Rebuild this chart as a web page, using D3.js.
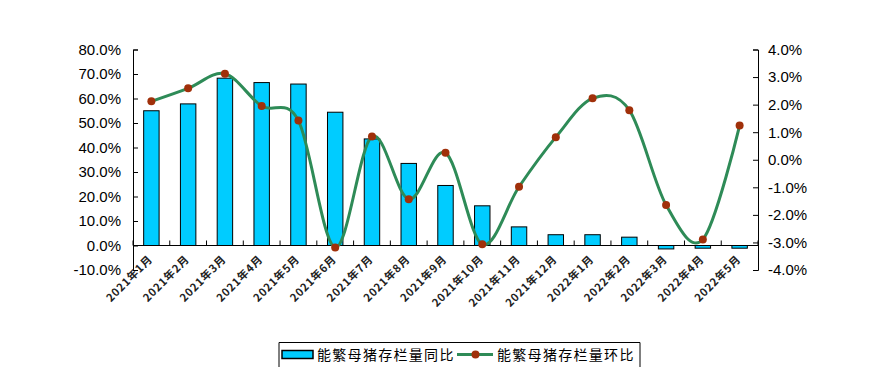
<!DOCTYPE html>
<html><head><meta charset="utf-8">
<script src="https://cdn.jsdelivr.net/npm/d3@7"></script>
<style>body{margin:0;background:#fff;}svg{display:block;}</style>
</head><body>
<svg id="c" width="872" height="392"></svg>
<script>
const categories = ["2021年1月","2021年2月","2021年3月","2021年4月","2021年5月","2021年6月","2021年7月","2021年8月","2021年9月","2021年10月","2021年11月","2021年12月","2022年1月","2022年2月","2022年3月","2022年4月","2022年5月"];
const yoyValues = [55.0, 57.8, 68.3, 66.5, 65.9, 54.4, 43.5, 33.5, 24.5, 16.2, 7.6, 4.4, 4.4, 3.4, -1.4, -1.1, -1.1];
const momValues = [2.12, 2.59, 3.12, 1.95, 1.42, -3.18, 0.84, -1.43, 0.25, -3.07, -0.98, 0.82, 2.23, 1.80, -1.64, -2.89, 1.24];
const leftTicks = [-10, 0, 10, 20, 30, 40, 50, 60, 70, 80];
const rightTicks = [-4, -3, -2, -1, 0, 1, 2, 3, 4];
const seriesNames = ["能繁母猪存栏量同比", "能繁母猪存栏量环比"];

const svg = d3.select("#c");
const X0 = 133, X1 = 758, Y0 = 270, Y1 = 49.5;
const x = d3.scaleBand().domain(categories).range([X0, X1]).paddingInner(0.58).paddingOuter(0.29);
const yL = d3.scaleLinear().domain([-10, 80]).range([Y0, Y1]);
const yR = d3.scaleLinear().domain([-4, 4]).range([Y0, Y1]);
const fmt = d => d.toFixed(1) + "%";
const font = "'Liberation Sans', Arial, sans-serif";

// bars
svg.append("g").selectAll("rect").data(categories).join("rect")
  .attr("x", c => x(c))
  .attr("width", x.bandwidth())
  .attr("y", (c, i) => yL(Math.max(0, yoyValues[i])))
  .attr("height", (c, i) => Math.abs(yL(yoyValues[i]) - yL(0)))
  .attr("fill", "#00CCFF").attr("stroke", "#000").attr("stroke-width", 1);

// left axis
const gl = svg.append("g").attr("transform", `translate(${X0},0)`)
  .call(d3.axisLeft(yL).tickValues(leftTicks).tickFormat(fmt).tickSize(-5).tickPadding(12));
// right axis
const gr = svg.append("g").attr("transform", `translate(${X1},0)`)
  .call(d3.axisRight(yR).tickValues(rightTicks).tickFormat(fmt).tickSize(-5).tickPadding(10));
[gl, gr].forEach(g => {
  g.select(".domain").attr("stroke", "#000");
  g.selectAll(".tick line").attr("stroke", "#000");
  g.selectAll("text").attr("font-family", font).attr("font-size", 15).attr("fill", "#000");
});

// x axis at zero
const step = x.step();
const gap = step - x.bandwidth();
const xg = svg.append("g");
xg.append("line").attr("x1", X0).attr("x2", X1).attr("y1", yL(0)).attr("y2", yL(0)).attr("stroke", "#000");
const bounds = categories.map(c => x(c) - gap / 2).concat([X1]);
xg.selectAll("line.t").data(bounds).join("line").attr("class", "t")
  .attr("x1", d => d).attr("x2", d => d).attr("y1", yL(0)).attr("y2", yL(0) - 5).attr("stroke", "#000");
xg.selectAll("text").data(categories).join("text")
  .attr("transform", c => `translate(${x(c) + x.bandwidth() / 2 + 2},260) rotate(-45)`)
  .attr("text-anchor", "end")
  .attr("font-family", "'Noto Sans CJK SC', sans-serif").attr("font-weight", "bold")
  .attr("font-size", 11).attr("letter-spacing", 0.8).attr("fill", "#222")
  .text(c => c);

// line
const line = d3.line()
  .x((d, i) => x(categories[i]) + x.bandwidth() / 2)
  .y(d => yR(d))
  .curve(d3.curveCardinal.tension(0));
svg.append("path").datum(momValues).attr("d", line)
  .attr("fill", "none").attr("stroke", "#2E8B57").attr("stroke-width", 3);
svg.append("g").selectAll("circle").data(momValues).join("circle")
  .attr("cx", (d, i) => x(categories[i]) + x.bandwidth() / 2)
  .attr("cy", d => yR(d)).attr("r", 4).attr("fill", "#A0300A");

// legend
const lg = svg.append("g");
lg.append("path").attr("d", "M279,367V342.5H640V367").attr("fill", "none").attr("stroke", "#000").attr("stroke-width", 1);
lg.append("rect").attr("x", 282).attr("y", 350.5).attr("width", 31).attr("height", 8)
  .attr("fill", "#00CCFF").attr("stroke", "#000").attr("stroke-width", 1.5);
lg.append("text").attr("x", 317).attr("y", 359.5).text(seriesNames[0]);
lg.append("line").attr("x1", 457).attr("x2", 493).attr("y1", 354.5).attr("y2", 354.5)
  .attr("stroke", "#2E8B57").attr("stroke-width", 3);
lg.append("circle").attr("cx", 475.5).attr("cy", 354.5).attr("r", 4).attr("fill", "#A0300A");
lg.append("text").attr("x", 497).attr("y", 359.5).text(seriesNames[1]);
lg.selectAll("text").attr("font-family", "'Noto Sans CJK SC', sans-serif").attr("font-size", 14)
  .attr("letter-spacing", 1.3).attr("fill", "#000");
</script>
</body></html>
